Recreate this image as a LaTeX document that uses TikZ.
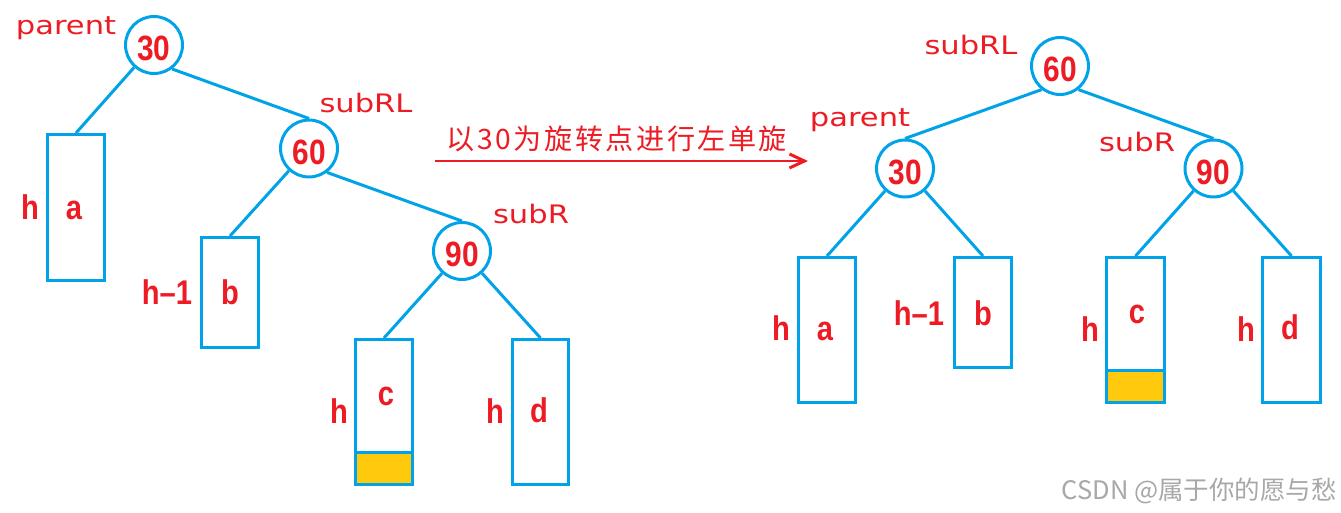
\documentclass[tikz,border=0pt]{standalone}
\usepackage{fontspec}
\setmainfont{Liberation Sans}
\newfontfamily\widefont{DejaVu Sans}
\newfontfamily\cjkfont{Noto Sans CJK SC}
\newfontfamily\cjkspaced[LetterSpace=9]{Noto Sans CJK SC}
\usetikzlibrary{arrows.meta,fit}
\definecolor{tblue}{HTML}{00A2E8}
\definecolor{tred}{HTML}{ED1C24}
\definecolor{tyellow}{HTML}{FFC90E}
\definecolor{wmgray}{HTML}{A8A8A8}
\newcommand\narrowtxt[1]{\scalebox{0.85}[1]{#1}}
\newcommand\numtxt[1]{\raisebox{-0.07cm}[\height][0pt]{\scalebox{0.85}[1]{#1}}}
\newcommand\widetxt[1]{\scalebox{1.2}[1]{#1}}
\tikzset{
  tnode/.style={circle, draw=tblue, line width=1.7pt, minimum size=1.14cm, inner sep=0pt, text=tred, font=\bfseries\fontsize{20}{20}\selectfont},
  rbox/.style={draw=tblue, line width=1.7pt, inner sep=0pt},
  ybox/.style={draw=tblue, fill=tyellow, line width=1.7pt},
  conn/.style={draw=tblue, line width=1.7pt},
  hlbl/.style={text=tred, inner sep=0pt, anchor=base, font=\bfseries\fontsize{19.5}{19.5}\selectfont},
  wlbl/.style={text=tred, inner sep=0pt, anchor=base, font=\widefont\fontsize{14.5}{14.5}\selectfont},
  rarrow/.style={draw=tred, line width=1.7pt, -{Straight Barb[length=0.3cm, width=0.28cm]}}
}
\begin{document}
\begin{tikzpicture}[x=0.02cm, y=-0.02cm]
\path[use as bounding box, fill=white] (0,0) rectangle (1341,513);

% ---------- left tree ----------
\node[tnode] (l30) at (154,45) {\numtxt{30}};
\node[tnode] (l60) at (309,148.5) {\numtxt{60}};
\node[tnode] (l90) at (462,251) {\numtxt{90}};
\node[rbox, fit={(47.5,134.5) (104.5,280.5)}] (la) {};
\node[rbox, fit={(201.5,237.5) (258.5,347.5)}] (lb) {};
\filldraw[ybox] (355.5,452.5) rectangle (412.5,484.5);
\node[rbox, fit={(355.5,339.5) (412.5,484.5)}] (lc) {};
\node[rbox, fit={(512.5,339.5) (568.5,484.5)}] (ld) {};
\draw[conn] (l30.-53) -- (l60.north);
\draw[conn] (l60.-53) -- (l90.north);
\draw[conn] (l30) -- (la.north);
\draw[conn] (l60) -- (lb.north);
\draw[conn] (l90) -- (lc.north);
\draw[conn] (l90) -- (ld.north);

\node[wlbl] (lparent) at (66,35) {\widetxt{parent}};
\node[wlbl] (lsubRL) at (366,113) {\widetxt{subRL}};
\node[wlbl] (lsubR) at (531,223) {\widetxt{subR}};

\node[hlbl] (lha) at (30,219) {\narrowtxt{h}};
\node[hlbl] (lta) at (74,219) {\narrowtxt{a}};
\node[hlbl] (lhb) at (167,304) {\narrowtxt{h--1}};
\node[hlbl] (ltb) at (230,304) {\narrowtxt{b}};
\node[hlbl] (lhc) at (339,423) {\narrowtxt{h}};
\node[hlbl] (ltc) at (386,405) {\narrowtxt{c}};
\node[hlbl] (lhd) at (495,423) {\narrowtxt{h}};
\node[hlbl] (ltd) at (539,422) {\narrowtxt{d}};

% ---------- arrow ----------
\coordinate (as) at (435,161);
\coordinate (ae) at (808,161);
\draw[rarrow] (as) -- (ae);
\node[text=tred, inner sep=0pt, anchor=base, font=\cjkspaced\fontsize{16}{16}\selectfont] (rtxt) at (617,150) {以30为旋转点进行左单旋};

% ---------- right tree ----------
\node[tnode] (r60) at (1060,66) {\numtxt{60}};
\node[tnode] (r30) at (905,168.5) {\numtxt{30}};
\node[tnode] (r90) at (1213.5,168.5) {\numtxt{90}};
\node[rbox, fit={(798.5,257.5) (855.5,402.5)}] (ra) {};
\node[rbox, fit={(954.5,257.5) (1011.5,367.5)}] (rb) {};
\filldraw[ybox] (1106.5,370.5) rectangle (1164.5,402.5);
\node[rbox, fit={(1106.5,257.5) (1164.5,402.5)}] (rc) {};
\node[rbox, fit={(1262.5,257.5) (1320.5,402.5)}] (rd) {};
\draw[conn] (r60.232) -- (r30.north);
\draw[conn] (r60.-52) -- (r90.north);
\draw[conn] (r30) -- (ra.north);
\draw[conn] (r30) -- (rb.north);
\draw[conn] (r90) -- (rc.north);
\draw[conn] (r90) -- (rd.north);

\node[wlbl] (rsubRL) at (971,55) {\widetxt{subRL}};
\node[wlbl] (rparent) at (860,127) {\widetxt{parent}};
\node[wlbl] (rsubR) at (1137,152) {\widetxt{subR}};

\node[hlbl] (rha) at (781,340) {\narrowtxt{h}};
\node[hlbl] (rta) at (825,340) {\narrowtxt{a}};
\node[hlbl] (rhb) at (919,325) {\narrowtxt{h--1}};
\node[hlbl] (rtb) at (983,325) {\narrowtxt{b}};
\node[hlbl] (rhc) at (1090,341) {\narrowtxt{h}};
\node[hlbl] (rtc) at (1137,323) {\narrowtxt{c}};
\node[hlbl] (rhd) at (1246,341) {\narrowtxt{h}};
\node[hlbl] (rtd) at (1290,339) {\narrowtxt{d}};

% ---------- watermark ----------
\node[text=wmgray, inner sep=0pt, anchor=base east, font=\cjkfont\fontsize{14.5}{14.5}\selectfont] (wm) at (1337,499) {CSDN @属于你的愿与愁};
\end{tikzpicture}
\end{document}
